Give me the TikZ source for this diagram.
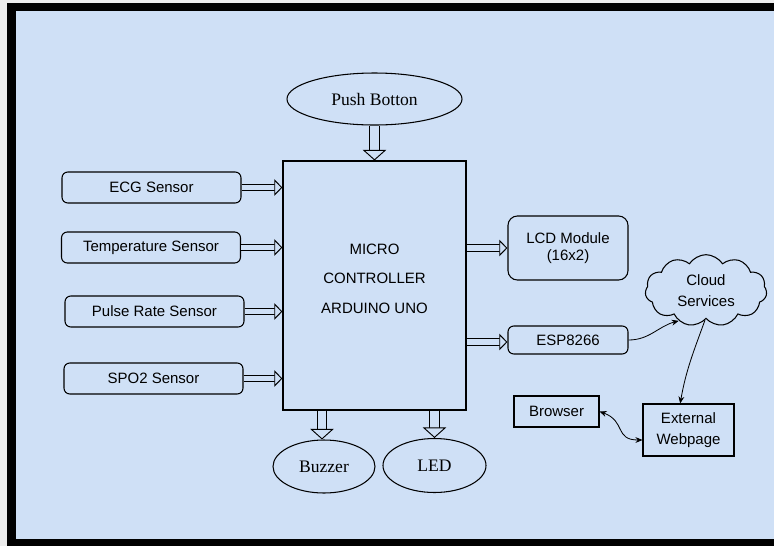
\documentclass[tikz,border=0pt]{standalone}
\usepackage{fontspec}
\setmainfont{Liberation Serif}
\setsansfont{Liberation Sans}
\usetikzlibrary{arrows.meta,shapes.geometric,shapes.symbols}
\definecolor{bgblue}{RGB}{207,224,246}

\begin{document}
\begin{tikzpicture}[x=0.03cm, y=-0.03cm,
% common options for blocks:
block/.style = {draw, line width=0.9pt, rounded corners=5pt, align=center,
            font=\sffamily\fontsize{12.8}{14}\selectfont, inner sep=0},
% common options for the ellipses:
ball/.style = {ellipse, draw, line width=0.9pt, align=center,
            font=\fontsize{15}{17}\selectfont, inner sep=0},
% common options for the thick hollow arrows:
pipe/.style = {draw, line width=0.8pt, double=bgblue, double distance=4.5pt,
            -{Triangle[fill=bgblue, length=7pt, width=14pt, line width=0.8pt]}},
bigpipe/.style = {pipe, double distance=7pt,
            -{Triangle[fill=bgblue, length=9pt, width=20pt, line width=0.8pt]}},
% common options for the thin links:
link/.style = {draw, line width=0.7pt, -{Stealth[length=6pt, width=5pt]}}]
% frame
\fill[gray!15] (0,0) rectangle (774,546);
\fill[black] (7,3) rectangle (774,546);
\fill[bgblue] (16,11) rectangle (774,539);
\useasboundingbox (0,0) rectangle (774,546);
\node[ball,minimum width=5.25cm,minimum height=1.56cm] (P0) at (374.5,99) {Push Botton};
\node[block,rounded corners=0,minimum width=5.49cm,minimum height=7.47cm] (M0) at (374.5,285.5)
      {MICRO\\[11pt]CONTROLLER\\[11pt]ARDUINO UNO\\[-2pt]\mbox{}};
\node[block,minimum width=5.37cm,minimum height=0.93cm] (S1) at (151.5,187.5) {ECG Sensor};
\node[block,minimum width=5.37cm,minimum height=0.93cm] (S2) at (151,247.5) {Temperature Sensor};
\node[block,minimum width=5.37cm,minimum height=0.93cm] (S3) at (154.5,311.5) {Pulse Rate Sensor};
\node[block,minimum width=5.37cm,minimum height=0.93cm] (S4) at (153.5,378.5) {SPO2 Sensor};
\node[ball,minimum width=3.06cm,minimum height=1.59cm] (E1) at (324,466.5) {Buzzer};
\node[ball,minimum width=3.09cm,minimum height=1.62cm] (E2) at (434.5,465.5) {LED};
\node[block,rounded corners=8pt,minimum width=3.6cm,minimum height=1.92cm] (D1) at (568,248) {LCD Module\\(16x2)};
\node[block,minimum width=3.6cm,minimum height=0.84cm] (D2) at (568,340) {ESP8266};
\node[cloud,draw,line width=0.9pt,cloud puffs=11,cloud puff arc=115,aspect=1.6,
      align=center,font=\sffamily\fontsize{12.8}{18}\selectfont,inner sep=0,
      minimum width=3.65cm,minimum height=2.15cm] (C0) at (706,290.5) {Cloud\\Services};
\node[block,rounded corners=0,minimum width=2.55cm,minimum height=0.93cm] (B0) at (556.5,411.5) {Browser};
\node[block,rounded corners=0,minimum width=2.73cm,minimum height=1.56cm,
      font=\sffamily\fontsize{12.8}{18}\selectfont] (W0) at (688.5,430) {External\\Webpage};
% hollow arrows
\draw[bigpipe] (P0.south) -- (P0.south |- M0.north);
\draw[pipe] (S1.east) -- (S1.east -| M0.west);
\draw[pipe] (S2.east) -- (S2.east -| M0.west);
\draw[pipe] (S3.east) -- (S3.east -| M0.west);
\draw[pipe] (S4.east) -- (S4.east -| M0.west);
\draw[pipe] (D1.west -| M0.east) -- (D1.west);
\draw[pipe] ([yshift=-0.06cm]D2.west -| M0.east) -- ([yshift=-0.06cm]D2.west);
\draw[bigpipe] ([xshift=-0.06cm]E1.north |- M0.south) -- ([xshift=-0.06cm]E1.north);
\draw[bigpipe] (E2.north |- M0.south) -- (E2.north);
% thin links
\draw[link] (D2.east) to[out=0, in=195] (C0.228);
\draw[link] (C0.268) to[out=250, in=80] ([xshift=-0.25cm]W0.north);
\draw[link, {Stealth[length=6pt, width=5pt]}-{Stealth[length=6pt, width=5pt]}]
      (B0.east) to[out=-20, in=180, looseness=1.4] ([yshift=-0.3cm]W0.west);
\end{tikzpicture}
\end{document}
